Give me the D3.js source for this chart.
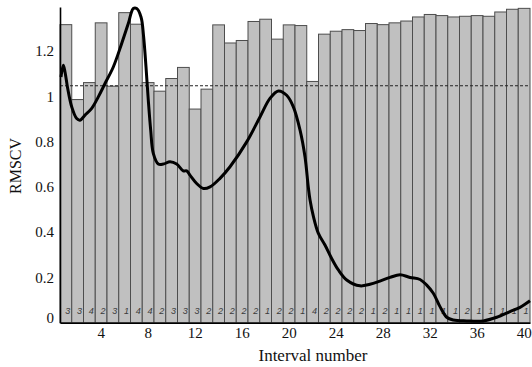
<!DOCTYPE html>
<html>
<head>
<meta charset="utf-8">
<script src="https://cdn.jsdelivr.net/npm/d3@7"></script>
<style>
  body { margin: 0; background: #fff; }
  svg { display: block; }
  .axis text { font-family: "Liberation Serif", "DejaVu Serif", serif; font-size: 15px; fill: #111; }
</style>
</head>
<body>
<div class="chart-container"></div>
<script>
// Data ------------------------------------------------------------------------------------------------------
const intervals = [1, 2, 3, 4, 5, 6, 7, 8, 9, 10, 11, 12, 13, 14, 15, 16, 17, 18, 19, 20,
                   21, 22, 23, 24, 25, 26, 27, 28, 29, 30, 31, 32, 33, 34, 35, 36, 37, 38, 39, 40];

const rmscv = [1.317, 0.986, 1.061, 1.325, 1.045, 1.370, 1.319, 1.061, 1.023, 1.079,
               1.128, 0.944, 1.032, 1.316, 1.236, 1.247, 1.331, 1.341, 1.253, 1.316,
               1.313, 1.066, 1.275, 1.288, 1.295, 1.291, 1.322, 1.317, 1.325, 1.333,
               1.351, 1.362, 1.357, 1.351, 1.354, 1.357, 1.354, 1.373, 1.385, 1.389];

const barLabels = [3, 3, 4, 2, 3, 1, 4, 4, 2, 3, 3, 3, 2, 2, 2, 2, 2, 1, 2, 2,
                   1, 4, 2, 2, 2, 2, 1, 2, 1, 1, 1, 1, 1, 1, 2, 1, 1, 1, 1, 1];

const threshold = 1.047;

// smooth curve, x in interval units
const curveX = [0.585, 0.781, 0.926, 1.155, 1.496, 1.921, 2.202, 2.628, 3.198, 3.760,
                4.330, 5.036, 5.751, 6.313, 6.738, 7.028, 7.394, 7.606, 7.819, 8.015,
                8.219, 8.440, 8.866, 9.291, 9.862, 10.43, 10.99, 11.28, 11.56, 12.13,
                12.70, 13.27, 14.12, 14.97, 16.39, 17.52, 18.37, 19.08, 19.79, 20.36,
                20.93, 21.35, 21.63, 21.78, 22.06, 22.48, 23.05, 23.62, 24.19, 24.90,
                26.03, 26.88, 27.73, 28.59, 29.44, 30.29, 31.14, 31.71, 32.27, 32.84,
                33.41, 33.97, 35.11, 36.53, 37.67, 38.80, 39.65, 40.50];
const curveY = [1.086, 1.138, 1.108, 1.035, 0.954, 0.902, 0.895, 0.917, 0.947, 0.998,
                1.057, 1.130, 1.234, 1.322, 1.388, 1.388, 1.351, 1.270, 1.130, 0.983,
                0.851, 0.748, 0.701, 0.701, 0.711, 0.701, 0.671, 0.671, 0.652, 0.615,
                0.593, 0.600, 0.638, 0.689, 0.799, 0.909, 0.991, 1.024, 1.005, 0.954,
                0.851, 0.733, 0.600, 0.542, 0.471, 0.396, 0.343, 0.284, 0.233, 0.189,
                0.163, 0.170, 0.184, 0.200, 0.212, 0.200, 0.191, 0.166, 0.130, 0.071,
                0.024, 0.012, 0.008, 0.008, 0.024, 0.049, 0.068, 0.097];

const xTicks = [4, 8, 12, 16, 20, 24, 28, 32, 36, 40];
const yTicks = [0, 0.2, 0.4, 0.6, 0.8, 1, 1.2];

// Graph Dimensions ------------------------------------------------------------------------------------------
const width = 532,
      height = 367,
      plot = {left: 60, right: 530, top: 7, bottom: 322.7};

// SVG -------------------------------------------------------------------------------------------------------
const svg = d3.select(".chart-container").append("svg")
.attr("width", width)
.attr("height", height);

// Scales ----------------------------------------------------------------------------------------------------
const xBand = d3.scaleBand()
.domain(intervals)
.range([plot.left, plot.right])
.padding(0);

const xLin = d3.scaleLinear()
.domain([0.5, 40.5])
.range([plot.left, plot.right]);

const y = d3.scaleLinear()
.domain([0, 1.395])
.range([plot.bottom, plot.top]);

// Bars ------------------------------------------------------------------------------------------------------
const barData = intervals.map((d, i) => ({interval: d, value: rmscv[i], label: barLabels[i]}));

svg.append("g").selectAll(".bar")
.data(barData)
.enter()
.append("rect")
.attr("class", "bar")
.attr("x", d => xBand(d.interval))
.attr("y", d => y(d.value))
.attr("width", xBand.bandwidth())
.attr("height", d => y(0) - y(d.value))
.attr("fill", "#c0c0c0")
.attr("stroke", "#4d4d4d")
.attr("stroke-width", 1);

svg.append("g").selectAll(".bar-label")
.data(barData)
.enter()
.append("text")
.attr("class", "bar-label")
.attr("x", d => xBand(d.interval) + xBand.bandwidth() / 2 + 2)
.attr("y", plot.bottom - 8.5)
.attr("text-anchor", "middle")
.style("font-family", "'Liberation Sans', Arial, sans-serif")
.style("font-style", "italic")
.style("font-size", "9px")
.style("fill", "#3a3a3a")
.text(d => d.label);

// Threshold line
svg.append("line")
.attr("x1", plot.left)
.attr("x2", plot.right)
.attr("y1", y(threshold))
.attr("y2", y(threshold))
.attr("stroke", "#222")
.attr("stroke-width", 1)
.attr("stroke-dasharray", "3,2");

// Curve -----------------------------------------------------------------------------------------------------
const curvePoints = curveX.map((d, i) => ({x: d, y: curveY[i]}));

const line = d3.line()
.curve(d3.curveCatmullRom.alpha(0.5))
.x(d => xLin(d.x))
.y(d => y(d.y));

svg.append("path")
.datum(curvePoints)
.attr("d", line)
.attr("fill", "none")
.attr("stroke", "#000")
.attr("stroke-width", 3)
.attr("stroke-linejoin", "round");

// Axes ------------------------------------------------------------------------------------------------------
const xAxis = svg.append("g")
.attr("class", "axis")
.attr("transform", `translate(0,${plot.bottom})`)
.call(d3.axisBottom(xBand).tickValues(xTicks).tickSize(0).tickSizeOuter(0).tickPadding(5));

const yAxis = svg.append("g")
.attr("class", "axis")
.attr("transform", `translate(${plot.left},0)`)
.call(d3.axisLeft(y).tickValues(yTicks).tickSize(0).tickSizeOuter(0).tickPadding(6)
  .tickFormat(d => (d === 0 || d === 1) ? d3.format("d")(d) : d3.format(".1f")(d)));

// the zero label sits a little above the axis line
yAxis.selectAll(".tick")
.filter(d => d === 0)
.select("text")
.attr("y", -5);

svg.selectAll(".axis .domain")
.attr("stroke", "#000")
.attr("stroke-width", 1.6);

// Axis Titles -----------------------------------------------------------------------------------------------
svg.append("text")
.attr("x", 313)
.attr("y", 361)
.attr("text-anchor", "middle")
.style("font-family", "'Liberation Serif', 'DejaVu Serif', serif")
.style("font-size", "17px")
.style("fill", "#111")
.text("Interval number");

svg.append("text")
.attr("transform", "translate(21,166) rotate(-90)")
.attr("text-anchor", "middle")
.style("font-family", "'Liberation Serif', 'DejaVu Serif', serif")
.style("font-size", "16px")
.style("fill", "#111")
.text("RMSCV");
</script>
</body>
</html>
